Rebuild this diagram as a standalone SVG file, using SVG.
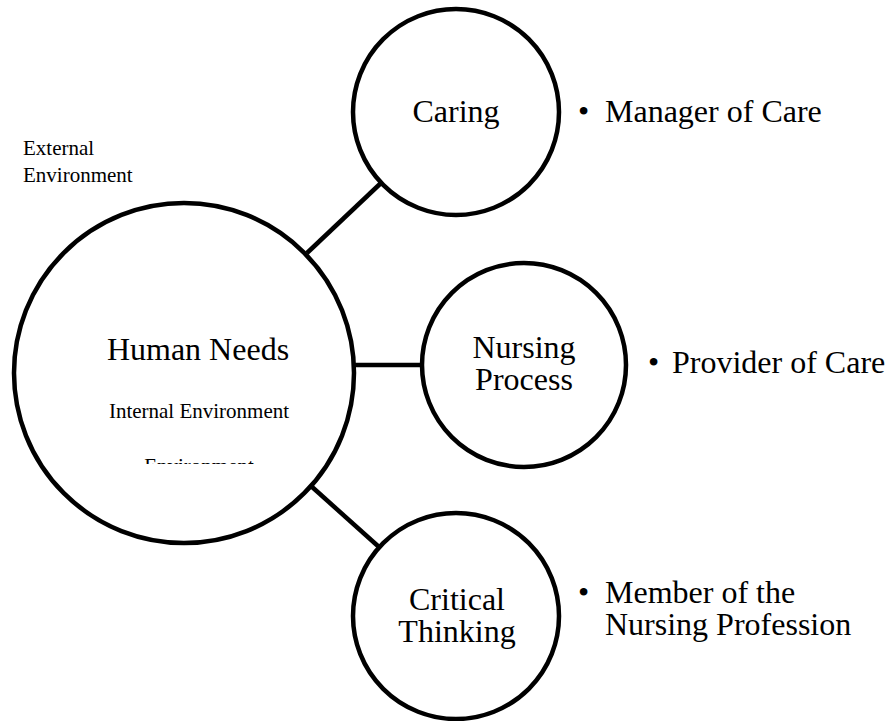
<svg xmlns="http://www.w3.org/2000/svg" width="886" height="721" viewBox="0 0 886 721">
  <style>
    .node { fill: #ffffff; stroke: #000000; stroke-width: 4.5; }
    .conn { stroke: #000000; stroke-width: 4.5; fill: none; }
    .big { font-family: "Liberation Serif", "Times New Roman", serif; font-size: 32px; fill: #000000; }
    .small { font-family: "Liberation Serif", "Times New Roman", serif; font-size: 21px; fill: #000000; }
    .mid { text-anchor: middle; }
  </style>
  <defs>
    <clipPath id="envClip">
      <rect x="0" y="440" width="360" height="24"/>
    </clipPath>
  </defs>
  <rect x="0" y="0" width="886" height="721" fill="#ffffff"/>

  <g id="connectors">
    <line class="conn" x1="307" y1="253" x2="381" y2="183"/>
    <line class="conn" x1="353" y1="365" x2="423" y2="365"/>
    <line class="conn" x1="311" y1="486" x2="379" y2="547"/>
  </g>

  <g id="external-environment">
    <text class="small" x="23" y="155">External<tspan x="23" dy="27">Environment</tspan></text>
  </g>

  <g id="human-needs">
    <circle class="node" cx="184" cy="373" r="170"/>
    <text class="big mid" x="198" y="360">Human Needs</text>
    <text class="small mid" x="199" y="418">Internal Environment</text>
    <text class="small mid" x="199" y="473" clip-path="url(#envClip)">Environment</text>
  </g>

  <g id="caring">
    <circle class="node" cx="456" cy="112" r="103"/>
    <text class="big mid" x="456" y="122">Caring</text>
  </g>

  <g id="nursing-process">
    <circle class="node" cx="524" cy="365" r="102"/>
    <text class="big mid" x="524" y="358">Nursing<tspan x="524" dy="32">Process</tspan></text>
  </g>

  <g id="critical-thinking">
    <circle class="node" cx="456" cy="616" r="103"/>
    <text class="big mid" x="457" y="610">Critical<tspan x="457" dy="32">Thinking</tspan></text>
  </g>

  <g id="role-manager">
    <text class="big" x="578" y="122">•<tspan x="605">Manager of Care</tspan></text>
  </g>

  <g id="role-provider">
    <text class="big" x="648" y="373">•<tspan x="672">Provider of Care</tspan></text>
  </g>

  <g id="role-member">
    <text class="big" x="578" y="603">•<tspan x="605">Member of the</tspan><tspan x="605" dy="32">Nursing Profession</tspan></text>
  </g>
</svg>
